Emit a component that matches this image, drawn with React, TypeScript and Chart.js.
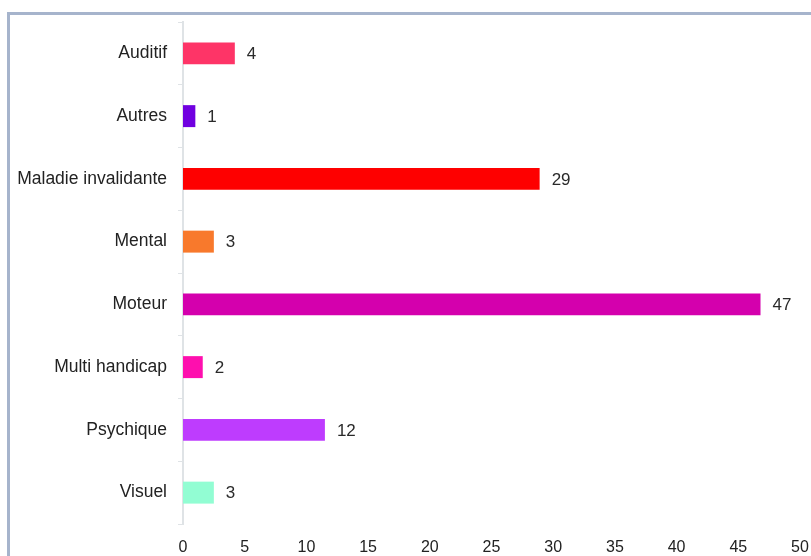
import React, { useEffect, useRef } from "react";
import { Chart, registerables } from "chart.js";

Chart.register(...registerables);

const categories = [
  "Auditif",
  "Autres",
  "Maladie invalidante",
  "Mental",
  "Moteur",
  "Multi handicap",
  "Psychique",
  "Visuel",
];
const values = [4.2, 1.0, 28.9, 2.5, 46.8, 1.6, 11.5, 2.5];
const barColors = [
  "#fe3467",
  "#7000e0",
  "#fe0000",
  "#f8792c",
  "#d400ad",
  "#fe0fae",
  "#be3cfe",
  "#92fdd3",
];
const xMin = 0;
const xMax = 50;
const xStep = 5;

const FONT = "'Liberation Sans', Arial, sans-serif";

const framePlugin = {
  id: "frame",
  beforeDraw(chart: any) {
    const ctx = chart.ctx;
    ctx.save();
    ctx.fillStyle = "#ffffff";
    ctx.fillRect(0, 0, chart.width, chart.height);
    ctx.fillStyle = "#a6b4cc";
    ctx.fillRect(7, 12, chart.width - 7, 3);
    ctx.fillRect(7, 12, 3, chart.height - 12);
    ctx.restore();
  },
};

const valueLabelPlugin = {
  id: "valueLabels",
  afterDatasetsDraw(chart: any) {
    const ctx = chart.ctx;
    const meta = chart.getDatasetMeta(0);
    ctx.save();
    ctx.font = `17px ${FONT}`;
    ctx.fillStyle = "#2a2a2a";
    ctx.textAlign = "left";
    ctx.textBaseline = "middle";
    meta.data.forEach((bar: any, i: number) => {
      const v = chart.data.datasets[0].data[i] as number;
      ctx.fillText(String(Math.round(v)), bar.x + 12, bar.y + 1);
    });
    ctx.restore();
  },
};

export default function App() {
  const ref = useRef<HTMLCanvasElement | null>(null);

  useEffect(() => {
    if (!ref.current) return;
    const chart = new Chart(ref.current, {
      type: "bar",
      data: {
        labels: categories,
        datasets: [
          {
            data: values,
            backgroundColor: barColors,
            borderWidth: 0,
            barPercentage: 0.35,
            categoryPercentage: 1,
          },
        ],
      },
      options: {
        indexAxis: "y",
        responsive: false,
        animation: false,
        devicePixelRatio: 1,
        layout: { padding: { top: 22, right: 11, bottom: 0, left: 0 } },
        plugins: {
          legend: { display: false },
          tooltip: { enabled: false },
        },
        scales: {
          x: {
            min: xMin,
            max: xMax,
            ticks: {
              stepSize: xStep,
              font: { family: FONT, size: 16 },
              color: "#222222",
              padding: 6,
            },
            grid: { display: false },
            border: { display: false },
            afterFit(scale: any) {
              scale.height = 32;
              scale.paddingRight = 0;
              scale.paddingLeft = 0;
            },
          },
          y: {
            ticks: {
              font: { family: FONT, size: 17.5 },
              color: "#222222",
              padding: 11,
            },
            grid: {
              display: true,
              drawOnChartArea: false,
              tickLength: 5,
              color: "#dfe3e6",
              offset: true,
            },
            border: { display: true, color: "#dfe3e6", width: 2 },
            afterFit(scale: any) {
              scale.width = 183;
              scale.paddingTop = 0;
              scale.paddingBottom = 0;
            },
          },
        },
      },
      plugins: [framePlugin, valueLabelPlugin],
    });
    return () => chart.destroy();
  }, []);

  return (
    <div style={{ position: "absolute", left: 0, top: 0, width: 811, height: 556 }}>
      <canvas ref={ref} width={811} height={556} style={{ display: "block" }} />
    </div>
  );
}
